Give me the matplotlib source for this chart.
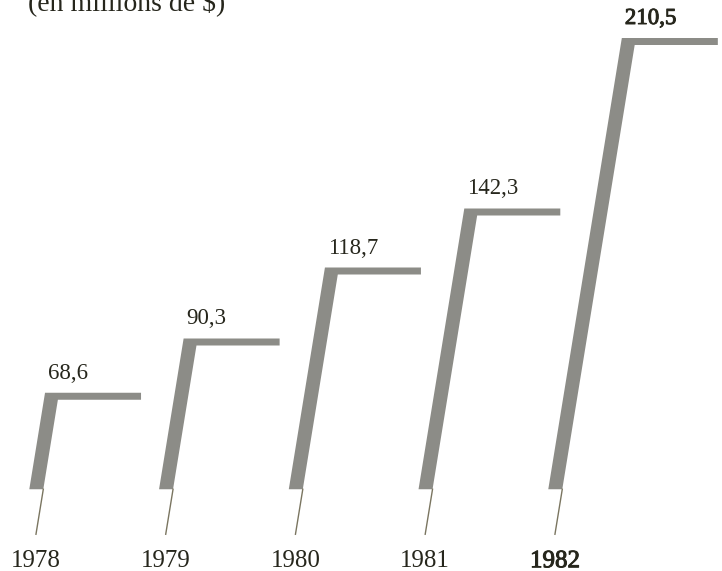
import matplotlib
matplotlib.use("Agg")
import matplotlib.pyplot as plt
from matplotlib.patches import Polygon
from matplotlib.lines import Line2D
import matplotlib.patheffects as pe

# Chiffre d'affaires annuel (en millions de $)
years = ["1978", "1979", "1980", "1981", "1982"]
values = [68.6, 90.3, 118.7, 142.3, 210.5]
value_labels = ["68,6", "90,3", "118,7", "142,3", "210,5"]
title = "(en millions de $)"

BASE = 30.0        # value where the strokes start (truncated axis)
STEM_END = 12.0    # value where the thin stems end
BAR_COLOR = "#8c8c87"
STEM_COLOR = "#7a7560"
TEXT_COLOR = "#26261c"
FONT = ["Liberation Serif", "DejaVu Serif"]

W_PX, H_PX = 722, 571
fig = plt.figure(figsize=(W_PX / 100, H_PX / 100), dpi=100)
fig.patch.set_facecolor("white")
ax = fig.add_axes([0, 0, 1, 1])
ax.set_xlim(-0.2798, 5.285)
ax.set_ylim(-2.7, 225.7)
ax.axis("off")

# pixel -> data conversions (axes fill the whole figure)
x0, x1 = ax.get_xlim()
y0, y1 = ax.get_ylim()
xpp = (x1 - x0) / W_PX
ypp = (y1 - y0) / H_PX

SLANT = 0.163          # horizontal pixels per vertical pixel
stroke_w = 14 * xpp    # width of the slanted stroke
arm_len = 96 * xpp     # length of the horizontal arm
arm_t = 7 * ypp        # thickness of the horizontal arm


def left_edge(i, y):
    """x of the stroke's left edge at value y."""
    return i - stroke_w / 2 + SLANT * (y - BASE) / ypp * xpp


# the latest year is printed a little heavier
heavy = [pe.withStroke(linewidth=0.7, foreground=TEXT_COLOR)]

for i, (yr, v, lab) in enumerate(zip(years, values, value_labels)):
    xl_top = left_edge(i, v)
    xr_inner = left_edge(i, v - arm_t) + stroke_w
    xl_base = left_edge(i, BASE)
    verts = [
        (xl_base, BASE),
        (xl_top, v),
        (xl_top + arm_len, v),
        (xl_top + arm_len, v - arm_t),
        (xr_inner, v - arm_t),
        (xl_base + stroke_w, BASE),
    ]
    ax.add_patch(Polygon(verts, closed=True, facecolor=BAR_COLOR,
                         edgecolor="none"))

    # thin stem continuing the stroke's right edge downwards
    xs_top = xl_base + stroke_w
    xs_bot = left_edge(i, STEM_END) + stroke_w
    ax.add_line(Line2D([xs_top, xs_bot], [BASE, STEM_END],
                       color=STEM_COLOR, lw=1.0))

    effects = heavy if i == len(years) - 1 else None
    ax.text(xl_top + 3 * xpp, v + 14 * ypp, lab, ha="left", va="baseline",
            fontsize=16.5, family=FONT, color=TEXT_COLOR, path_effects=effects)
    ax.text(xs_bot, STEM_END - 33 * ypp, yr, ha="center",
            va="baseline", fontsize=18, family=FONT, color=TEXT_COLOR,
            path_effects=effects)

fig.text(28 / W_PX, 1 - 10 / H_PX, title, ha="left", va="baseline",
         fontsize=20, family=FONT, color=TEXT_COLOR)

fig.savefig("out.png", dpi=100, facecolor="white")
